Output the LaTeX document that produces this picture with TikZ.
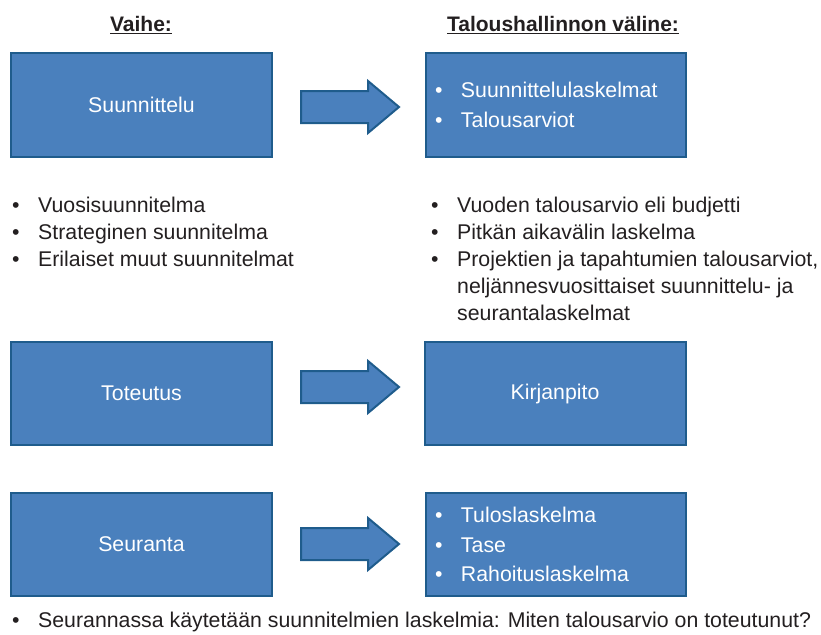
\documentclass[tikz,border=0pt]{standalone}
\usepackage{fontspec}
\setmainfont{Liberation Sans}
\usepackage{xcolor}
\usetikzlibrary{shapes.arrows}
\definecolor{phasefill}{HTML}{4A80BD}
\definecolor{phaseline}{HTML}{1F5C8C}
\definecolor{listdark}{HTML}{231F20}
\newcommand{\blt}{\makebox[26pt][l]{\textbullet}}
\newcommand{\nblt}{\makebox[26pt][l]{}}

\begin{document}
\begin{tikzpicture}[x=1pt,y=-1pt,font=\fontsize{21.3}{27}\selectfont]
\tikzset{
phase/.style={draw=phaseline,line width=2pt,fill=phasefill,text=white,minimum width=261pt,minimum height=103pt,inner sep=0pt,align=center},
tool/.style={draw=phaseline,line width=2pt,fill=phasefill,text=white,text width=242pt,inner xsep=9pt,inner ysep=0pt,minimum height=103pt,align=left,font=\fontsize{21.3}{29.5}\selectfont},
fwd/.style={single arrow,draw=phaseline,line width=2pt,fill=phasefill,inner xsep=0pt,inner ysep=15pt,single arrow head extend=10pt,single arrow tip angle=80,minimum height=98pt,anchor=tail},
head/.style={font=\fontsize{21}{27}\selectfont\bfseries,text=listdark,inner sep=0pt},
list/.style={anchor=west,align=left,text=listdark,inner sep=0pt}}
\useasboundingbox (0,0) rectangle (821,634);

\node[head] (vaihe) at (141,25) {\underline{Vaihe:}};
\node[head] (valine) at (563,25) {\underline{Taloushallinnon väline:}};

\node[phase] (suunn) at (141.5,105) {Suunnittelu};
\node[tool] (laskelmat) at (556,105) {\blt Suunnittelulaskelmat\\\blt Talousarviot};
\node[fwd] (arr1) at (300,107) {};

\node[list] (vaiheLista) at (12,232) {\blt Vuosisuunnitelma\\\blt Strateginen suunnitelma\\\blt Erilaiset muut suunnitelmat};
\node[list] (valineLista) at (431,259) {\blt Vuoden talousarvio eli budjetti\\\blt Pitkän aikavälin laskelma\\\blt Projektien ja tapahtumien talousarviot,\\\nblt neljännesvuosittaiset suunnittelu- ja\\\nblt seurantalaskelmat};

\node[phase] (toteut) at (141.5,393.5) {Toteutus};
\node[phase] (kirj) at (555,393.5) {Kirjanpito};
\node[fwd] (arr2) at (300,387) {};

\node[phase] (seur) at (141.5,544.5) {Seuranta};
\node[tool] (tilinp) at (556,544.5) {\blt Tuloslaskelma\\\blt Tase\\\blt Rahoituslaskelma};
\node[fwd] (arr3) at (300,544) {};

\node[list] (seurLista) at (12,622) {\blt Seurannassa käytetään suunnitelmien laskelmia: Miten talousarvio on toteutunut?};
\end{tikzpicture}
\end{document}
